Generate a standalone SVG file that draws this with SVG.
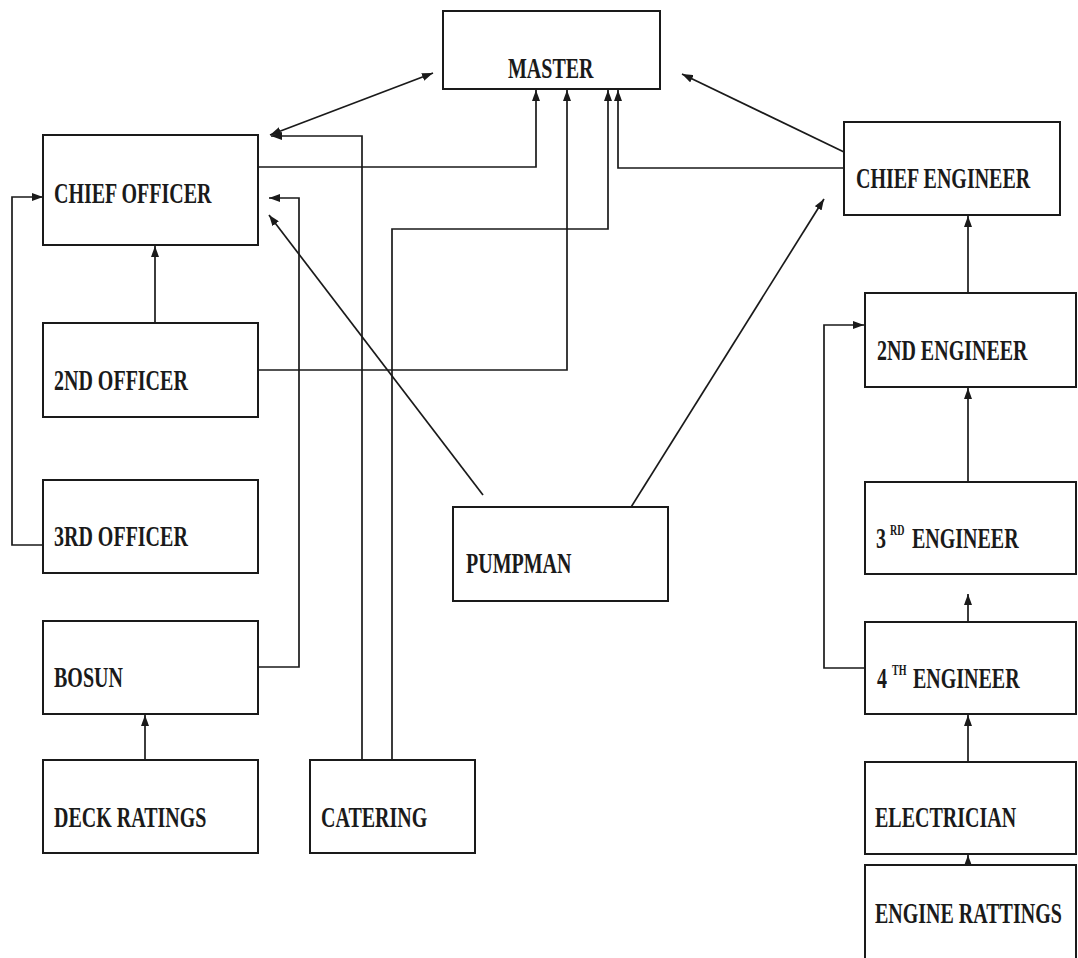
<svg xmlns="http://www.w3.org/2000/svg" width="1078" height="958" viewBox="0 0 1078 958">
<style>
.box{fill:#fff;stroke:#1a1a1a;stroke-width:2}
.lbl{font-family:"Liberation Serif","Times New Roman",serif;font-weight:bold;font-size:20px;fill:#1a1a1a}
.sup{font-family:"Liberation Serif","Times New Roman",serif;font-weight:bold;font-size:10px;fill:#1a1a1a}
.c{fill:none;stroke:#1a1a1a;stroke-width:1.7}
</style>
<defs>
<marker id="ah" viewBox="0 0 11 8" refX="11" refY="4" markerWidth="11" markerHeight="8" markerUnits="userSpaceOnUse" orient="auto-start-reverse">
<path d="M0,0 L11,4 L0,8 Z" fill="#1a1a1a"/>
</marker>
</defs>
<rect width="1078" height="958" fill="#fff"/>
<g id="connectors">
<line class="c" x1="270" y1="135" x2="433" y2="73" marker-start="url(#ah)" marker-end="url(#ah)"/>
<polyline class="c" points="362,760 362,136 271,136" marker-end="url(#ah)"/>
<polyline class="c" points="258,167 536,167 536,90" marker-end="url(#ah)"/>
<polyline class="c" points="258,370 567,370 567,90" marker-end="url(#ah)"/>
<polyline class="c" points="392,760 392,229 608,229 608,90" marker-end="url(#ah)"/>
<polyline class="c" points="844,168 618,168 618,90" marker-end="url(#ah)"/>
<line class="c" x1="844" y1="152" x2="682" y2="74" marker-end="url(#ah)"/>
<line class="c" x1="155" y1="323" x2="155" y2="246" marker-end="url(#ah)"/>
<polyline class="c" points="43,545 12,545 12,197 43,197" marker-end="url(#ah)"/>
<polyline class="c" points="258,667 299,667 299,198 269,198" marker-end="url(#ah)"/>
<line class="c" x1="145" y1="760" x2="145" y2="715" marker-end="url(#ah)"/>
<line class="c" x1="483" y1="495" x2="269" y2="215" marker-end="url(#ah)"/>
<line class="c" x1="628" y1="512" x2="824" y2="199" marker-end="url(#ah)"/>
<line class="c" x1="968" y1="293" x2="968" y2="216" marker-end="url(#ah)"/>
<line class="c" x1="968" y1="482" x2="968" y2="388" marker-end="url(#ah)"/>
<line class="c" x1="968" y1="622" x2="968" y2="594" marker-end="url(#ah)"/>
<polyline class="c" points="865,668 824,668 824,325 864,325" marker-end="url(#ah)"/>
<line class="c" x1="968" y1="762" x2="968" y2="715" marker-end="url(#ah)"/>
<line class="c" x1="968" y1="903" x2="968" y2="855" marker-end="url(#ah)"/>
</g>
<g id="master"><rect class="box" x="443" y="11" width="217" height="78"/><text class="lbl" transform="translate(508,78) scale(1,1.5)">MASTER</text></g>
<g id="chief-officer"><rect class="box" x="43" y="135" width="215" height="110"/><text class="lbl" transform="translate(54,203) scale(1,1.5)">CHIEF OFFICER</text></g>
<g id="second-officer"><rect class="box" x="43" y="323" width="215" height="94"/><text class="lbl" transform="translate(54,390) scale(1,1.5)">2ND OFFICER</text></g>
<g id="third-officer"><rect class="box" x="43" y="480" width="215" height="93"/><text class="lbl" transform="translate(54,546) scale(1,1.5)">3RD OFFICER</text></g>
<g id="bosun"><rect class="box" x="43" y="621" width="215" height="93"/><text class="lbl" transform="translate(54,687) scale(1,1.5)">BOSUN</text></g>
<g id="deck-ratings"><rect class="box" x="43" y="760" width="215" height="93"/><text class="lbl" transform="translate(54,827) scale(1,1.5)">DECK RATINGS</text></g>
<g id="catering"><rect class="box" x="310" y="760" width="165" height="93"/><text class="lbl" transform="translate(321,827) scale(1,1.5)">CATERING</text></g>
<g id="pumpman"><rect class="box" x="453" y="507" width="215" height="94"/><text class="lbl" transform="translate(466,573) scale(1,1.5)">PUMPMAN</text></g>
<g id="chief-engineer"><rect class="box" x="844" y="122" width="216" height="93"/><text class="lbl" transform="translate(856,188) scale(1,1.5)">CHIEF ENGINEER</text></g>
<g id="second-engineer"><rect class="box" x="865" y="293" width="211" height="94"/><text class="lbl" transform="translate(877,360) scale(1,1.5)">2ND ENGINEER</text></g>
<g id="third-engineer"><rect class="box" x="865" y="482" width="211" height="92"/><text class="lbl" transform="translate(876,548) scale(1,1.5)">3</text><text class="sup" transform="translate(890,535) scale(1,1.5)">RD</text><text class="lbl" transform="translate(912,548) scale(1,1.5)">ENGINEER</text></g>
<g id="fourth-engineer"><rect class="box" x="865" y="622" width="211" height="92"/><text class="lbl" transform="translate(877,688) scale(1,1.5)">4</text><text class="sup" transform="translate(892,675) scale(1,1.5)">TH</text><text class="lbl" transform="translate(913,688) scale(1,1.5)">ENGINEER</text></g>
<g id="electrician"><rect class="box" x="865" y="762" width="211" height="92"/><text class="lbl" transform="translate(875,827) scale(1,1.5)">ELECTRICIAN</text></g>
<g id="engine-rattings"><rect class="box" x="865" y="865" width="211" height="100"/><text class="lbl" transform="translate(875,923) scale(1,1.5)">ENGINE RATTINGS</text></g>
</svg>
